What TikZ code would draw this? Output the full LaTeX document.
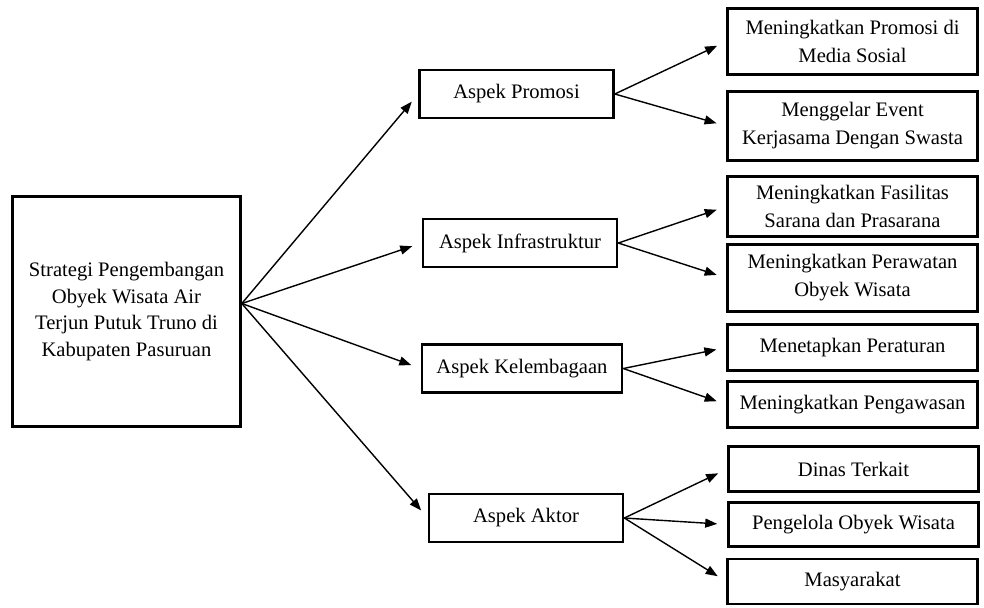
\documentclass[tikz,border=0pt]{standalone}
\usepackage{fontspec}
\setmainfont{Liberation Serif}
\usetikzlibrary{arrows.meta}
\begin{document}
\begin{tikzpicture}[x=0.5pt,y=-0.5pt,
	kotak/.style={draw,line width=1.3pt,align=center,inner sep=1pt,
		font=\fontsize{10.3}{14}\selectfont},
	aspek/.style={kotak,minimum width=97pt,minimum height=24pt},
	hasil/.style={kotak,minimum width=125pt},
	panah/.style={-{Triangle[length=6pt,width=4.5pt]},line width=0.7pt,shorten >=5pt}]
			\useasboundingbox (0,0) rectangle (984,607);
			%kotak kiri
			\node[kotak,minimum width=114pt,minimum height=115pt,font=\fontsize{10.3}{13.4}\selectfont] (utama) at (126.5,311.5)
			{Strategi Pengembangan\\Obyek Wisata Air\\Terjun Putuk Truno di\\Kabupaten Pasuruan};
			%aspek
			\node[aspek] (promosi) at (516.5,94) {Aspek Promosi};
			\node[aspek] (infra) at (520,243) {Aspek Infrastruktur};
			\node[aspek,minimum width=100pt] (lembaga) at (522,368.5) {Aspek Kelembagaan};
			\node[aspek] (aktor) at (526,518) {Aspek Aktor};
			%kotak kanan
			\node[hasil,minimum height=33pt] (r1) at (852.5,41.5) {Meningkatkan Promosi di\\Media Sosial};
			\node[hasil,minimum height=34.5pt] (r2) at (852.5,126) {Menggelar Event\\Kerjasama Dengan Swasta};
			\node[hasil,minimum height=30pt] (r3) at (852.5,206.5) {Meningkatkan Fasilitas\\Sarana dan Prasarana};
			\node[hasil,minimum height=33.5pt] (r4) at (852.5,278) {Meningkatkan Perawatan\\Obyek Wisata};
			\node[hasil,minimum height=23pt] (r5) at (852.5,347.5) {Menetapkan Peraturan};
			\node[hasil,minimum height=23pt] (r6) at (852.5,404.5) {Meningkatkan Pengawasan};
			\node[hasil,minimum height=22.5pt] (r7) at (853.5,469) {Dinas Terkait};
			\node[hasil,minimum height=22pt] (r8) at (853.5,524.5) {Pengelola Obyek Wisata};
			\node[hasil,minimum height=22.5pt] (r9) at (852.5,581.5) {Masyarakat};
			%panah
			\foreach \b in {promosi,infra,lembaga,aktor}
			\draw[panah] ([yshift=4pt]utama.east)--(\b.west);
			\foreach \a/\b in {promosi/r1,promosi/r2,infra/r3,infra/r4,lembaga/r5,lembaga/r6,aktor/r7,aktor/r8,aktor/r9}
			\draw[panah] (\a.east)--(\b.west);
			\end{tikzpicture}
\end{document}
